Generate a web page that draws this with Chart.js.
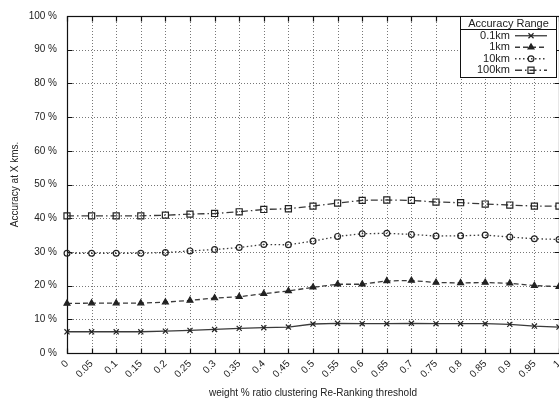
<!DOCTYPE html>
<html>
<head>
<meta charset="utf-8">
<script src="https://cdn.jsdelivr.net/npm/chart.js@4.4.1/dist/chart.umd.min.js"></script>
<style>
  html, body { margin: 0; padding: 0; background: #fff; overflow: hidden; }
  #wrap { width: 559px; height: 405px; overflow: hidden; position: relative; background: #fff; }
  canvas { display: block; }
</style>
</head>
<body>
<div id="wrap"><canvas id="chart" width="600" height="405" style="width:600px;height:405px"></canvas></div>
<script>
// Re-ranking threshold values (x axis categories)
const thresholds = ['0', '0.05', '0.1', '0.15', '0.2', '0.25', '0.3', '0.35', '0.4', '0.45', '0.5',
                    '0.55', '0.6', '0.65', '0.7', '0.75', '0.8', '0.85', '0.9', '0.95', '1'];

// Accuracy (%) within each distance range
const acc01km  = [6.3, 6.3, 6.3, 6.3, 6.5, 6.7, 7.0, 7.3, 7.5, 7.7, 8.6, 8.8, 8.7, 8.7, 8.8, 8.7, 8.7, 8.7, 8.5, 8.0, 7.7];
const acc1km   = [14.7, 14.8, 14.8, 14.8, 15.1, 15.6, 16.3, 16.7, 17.6, 18.4, 19.5, 20.4, 20.4, 21.4, 21.5, 20.9, 20.8, 20.9, 20.7, 20.0, 19.7];
const acc10km  = [29.6, 29.6, 29.6, 29.6, 29.8, 30.3, 30.7, 31.3, 32.2, 32.1, 33.2, 34.6, 35.4, 35.5, 35.2, 34.7, 34.8, 35.0, 34.4, 33.9, 33.7];
const acc100km = [40.7, 40.7, 40.7, 40.7, 40.9, 41.2, 41.4, 41.9, 42.6, 42.8, 43.6, 44.5, 45.3, 45.4, 45.3, 44.8, 44.6, 44.2, 43.9, 43.6, 43.6];

const seriesNames = ['0.1km', '1km', '10km', '100km'];
const yTickValues = [0, 10, 20, 30, 40, 50, 60, 70, 80, 90, 100];

const FONT = 'Liberation Sans, Arial, Helvetica, sans-serif';
const INK = '#222';

// Dotted grid, solid frame and inward tick marks in the classic plotting style
const framePlugin = {
  id: 'frame',
  beforeDatasetsDraw(chart) {
    const { ctx, chartArea: a, scales: { x, y } } = chart;
    ctx.save();
    ctx.lineWidth = 1;
    ctx.strokeStyle = '#777';
    ctx.setLineDash([1, 2]);
    const nx = x.ticks.length;
    for (let i = 1; i < nx; i++) {
      const px = Math.round(x.getPixelForTick(i)) + 0.5;
      ctx.beginPath(); ctx.moveTo(px, a.top); ctx.lineTo(px, a.bottom); ctx.stroke();
    }
    for (let i = 1; i < y.ticks.length - 1; i++) {
      const py = Math.round(y.getPixelForTick(i)) + 0.5;
      ctx.beginPath(); ctx.moveTo(a.left, py); ctx.lineTo(a.right, py); ctx.stroke();
    }
    ctx.setLineDash([]);
    ctx.strokeStyle = '#111';
    ctx.lineWidth = 1.2;
    const L = Math.round(a.left) + 0.5, R = Math.round(a.right) + 0.5;
    const T = Math.round(a.top) + 0.5, B = Math.round(a.bottom) + 0.5;
    ctx.strokeRect(L, T, R - L, B - T);
    const tl = 5;
    for (let i = 0; i < nx; i++) {
      const px = Math.round(x.getPixelForTick(i)) + 0.5;
      ctx.beginPath();
      ctx.moveTo(px, B); ctx.lineTo(px, B - tl);
      ctx.moveTo(px, T); ctx.lineTo(px, T + tl);
      ctx.stroke();
    }
    for (let i = 0; i < y.ticks.length; i++) {
      const py = Math.round(y.getPixelForTick(i)) + 0.5;
      ctx.beginPath();
      ctx.moveTo(L, py); ctx.lineTo(L + tl, py);
      ctx.moveTo(R, py); ctx.lineTo(R - tl, py);
      ctx.stroke();
    }
    ctx.restore();
  }
};

// Boxed key in the upper right corner with a title row
const keyPlugin = {
  id: 'key',
  afterDatasetsDraw(chart, args, opts) {
    const { ctx } = chart;
    const bx = opts.x, by = opts.y, bw = opts.width, bh = opts.height;
    ctx.save();
    ctx.fillStyle = '#fff';
    ctx.fillRect(bx, by, bw, bh);
    ctx.strokeStyle = '#111';
    ctx.lineWidth = 1;
    ctx.setLineDash([]);
    ctx.strokeRect(bx + 0.5, by + 0.5, bw, bh);
    ctx.beginPath();
    ctx.moveTo(bx, by + opts.headerHeight + 0.5);
    ctx.lineTo(bx + bw, by + opts.headerHeight + 0.5);
    ctx.stroke();
    ctx.font = '11px ' + FONT;
    ctx.fillStyle = INK;
    ctx.textAlign = 'center';
    ctx.textBaseline = 'middle';
    ctx.fillText(opts.title, bx + bw / 2 + 0.5, by + opts.headerHeight / 2 + 1);
    chart.data.datasets.forEach((ds, i) => {
      const yy = by + opts.headerHeight + opts.rowHeight * (i + 0.5) + 1;
      ctx.fillStyle = INK;
      ctx.textAlign = 'right';
      ctx.fillText(ds.label, bx + opts.textRight, yy);
      ctx.strokeStyle = ds.borderColor;
      ctx.lineWidth = ds.borderWidth;
      ctx.setLineDash(ds.borderDash || []);
      ctx.beginPath();
      ctx.moveTo(bx + opts.sampleStart, yy);
      ctx.lineTo(bx + opts.sampleEnd, yy);
      ctx.stroke();
      ctx.setLineDash([]);
      ctx.strokeStyle = ds.pointBorderColor;
      ctx.fillStyle = ds.pointBackgroundColor;
      ctx.lineWidth = ds.pointBorderWidth;
      Chart.helpers.drawPoint(ctx, {
        pointStyle: ds.pointStyle, radius: ds.pointRadius,
        borderWidth: ds.pointBorderWidth, rotation: 0
      }, bx + (opts.sampleStart + opts.sampleEnd) / 2, yy);
    });
    ctx.restore();
  }
};

const styles = [
  { dash: [],              point: 'crossRot', radius: 3.6, fill: '#222' },
  { dash: [5, 3],          point: 'triangle', radius: 3.4, fill: '#222' },
  { dash: [1.5, 2.5],      point: 'circle',   radius: 2.9, fill: 'rgba(255,255,255,0)' },
  { dash: [7, 3, 1.5, 3],  point: 'rect',     radius: 4.3, fill: 'rgba(255,255,255,0)' }
];
const seriesValues = [acc01km, acc1km, acc10km, acc100km];

const datasets = seriesValues.map((vals, i) => ({
  label: seriesNames[i],
  data: vals,
  borderColor: '#3a3a3a',
  borderWidth: 1.3,
  borderDash: styles[i].dash,
  pointStyle: styles[i].point,
  pointRadius: styles[i].radius,
  pointBorderColor: '#222',
  pointBackgroundColor: styles[i].fill,
  pointBorderWidth: 1.2,
  tension: 0,
  fill: false,
  clip: false
}));

new Chart(document.getElementById('chart'), {
  type: 'line',
  data: { labels: thresholds, datasets },
  plugins: [framePlugin, keyPlugin],
  options: {
    responsive: false,
    animation: false,
    devicePixelRatio: 1,
    layout: { padding: { left: 0, top: 12, right: 41, bottom: 0 } },
    plugins: {
      legend: { display: false },
      tooltip: { enabled: false },
      key: {
        title: 'Accuracy Range',
        x: 460, y: 16, width: 96, height: 61,
        headerHeight: 13, rowHeight: 11.5,
        textRight: 50, sampleStart: 55, sampleEnd: 87
      }
    },
    scales: {
      x: {
        type: 'category',
        offset: false,
        grid: { display: false, drawTicks: false },
        border: { display: false },
        ticks: {
          autoSkip: false, minRotation: 45, maxRotation: 45, padding: 5,
          color: INK, font: { family: FONT, size: 10 }
        },
        title: {
          display: true, text: 'weight % ratio clustering Re-Ranking threshold',
          color: INK, font: { family: FONT, size: 10 }, padding: { top: 0, bottom: 6 }
        },
        afterFit(s) { s.height = 52; }
      },
      y: {
        min: 0, max: 100,
        afterBuildTicks(s) { s.ticks = yTickValues.map(v => ({ value: v })); },
        grid: { display: false, drawTicks: false },
        border: { display: false },
        ticks: {
          padding: 10, color: INK, font: { family: FONT, size: 10 },
          callback: v => v + ' %'
        },
        title: {
          display: true, text: 'Accuracy at X kms.',
          color: INK, font: { family: FONT, size: 10 }, padding: { top: 9, bottom: 0 }
        },
        afterFit(s) { s.width = 67; }
      }
    }
  }
});
</script>
</body>
</html>
